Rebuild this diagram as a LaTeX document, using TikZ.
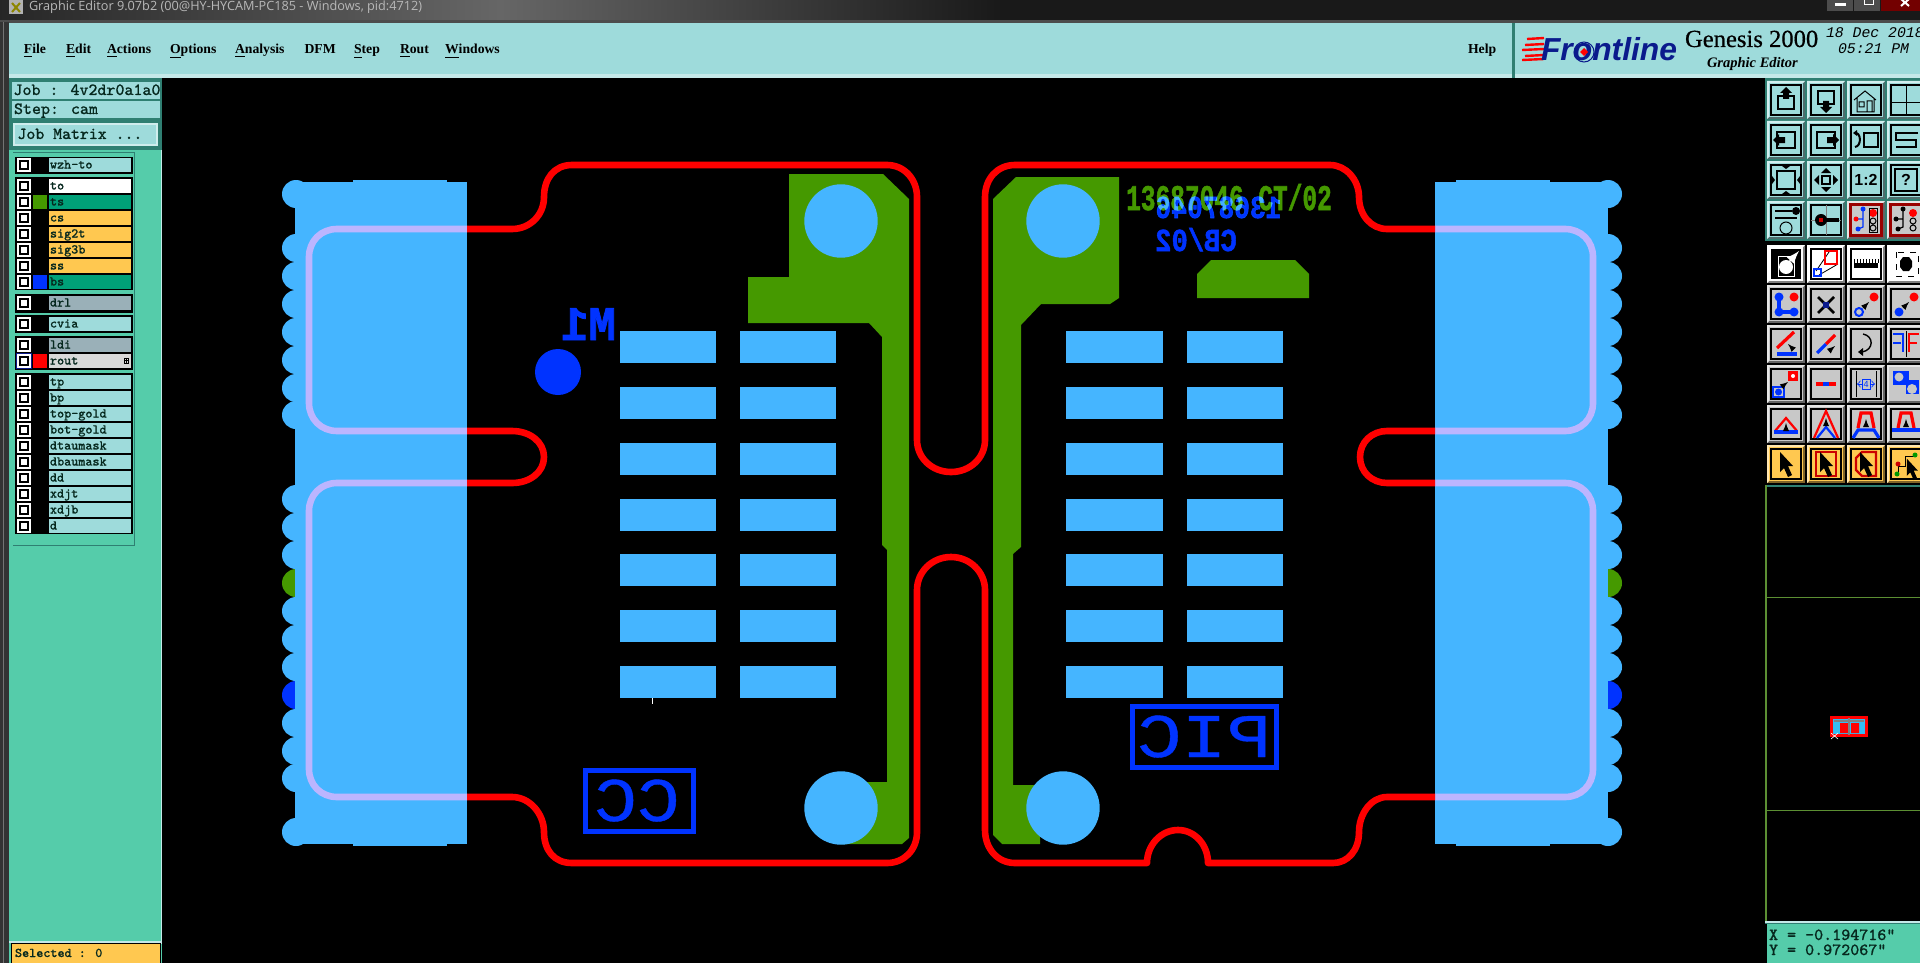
\documentclass[tikz,border=0pt]{standalone}
\usepackage{fontspec}
\setmainfont{Liberation Serif}
\newfontfamily\monof{Liberation Mono}
\newfontfamily\heavyf[FakeBold=1.6]{Liberation Mono Bold}
\newfontfamily\medf[FakeBold=0.6]{Liberation Mono}
\newfontfamily\lmf[FakeBold=0.8]{Latin Modern Mono}
\newfontfamily\sansf{Liberation Sans}
\newfontfamily\titlef{Open Sans}
\newfontfamily\genf[FakeBold=0.5]{Liberation Serif}
\newcommand\fs[1]{\fontsize{#1pt}{#1pt}\selectfont}
\definecolor{pad}{HTML}{45B5FF}
\definecolor{cu}{HTML}{459900}
\definecolor{bot}{HTML}{0033FF}
\definecolor{lav}{HTML}{BCB5FF}
\definecolor{panel}{HTML}{9EDBDB}
\definecolor{side}{HTML}{55CCAA}
\definecolor{sel}{HTML}{FFC850}
\definecolor{act}{HTML}{00A078}
\definecolor{gry}{HTML}{9AB0B8}
\definecolor{edge}{HTML}{2F7F72}
\definecolor{btng}{HTML}{C8C8C8}
\definecolor{navy}{HTML}{0A1A8C}
\definecolor{ink}{HTML}{06281E}
\tikzset{
 txt/.style={anchor=base west,inner sep=0pt,outer sep=0pt},
 route/.style={draw=red,line width=3.3pt,line join=round},
 lavline/.style={draw=lav,line width=3.3pt},
 mir/.style={anchor=base,inner sep=0pt,outer sep=0pt},
 fr/.style={draw=black,line width=.6pt},
 ik/.style={draw=black,line width=1pt},
 layt/.style={txt,text=ink,font=\lmf\fs{6.67}},
 menu/.style={txt,text=black,font=\bfseries\fs{6.85}},
}
\newcommand\btn[4]{\begin{scope}[shift={(#1,#2)}]
 \fill[#3!50!black] (-19,-19) rectangle (19,19);
 \fill[#3!45!white] (-19,-19) -- (19,-19) -- (17,-17) -- (-17,-17) -- (-17,17) -- (-19,19) -- cycle;
 \fill[#3] (-17,-17) rectangle (17,17);
 #4
\end{scope}}
\newcommand\boxed{\draw[fr] (-15,-15) rectangle (15,15);}
\newcommand\curs{\fill[black] (-6,-12) -- (7,2) -- (2,2) -- (6,11) -- (2,13) -- (-2,4) -- (-6,8) -- cycle;}
\newcommand\layerrow[5]{% y, id, label, label fill, swatch
 \fill[white] (17,#1-7) rectangle (31,#1+7);
 \fill[black] (19,#1-5) rectangle (29,#1+5);
 \fill[white] (21,#1-3) rectangle (27,#1+3);
 \fill[#5] (33,#1-7) rectangle (47,#1+7);
 \fill[#4] (49,#1-7) rectangle (131,#1+7);
 \node[layt] (#2) at (50,#1+3.5) {#3};
}
\begin{document}
\begin{tikzpicture}[x=.5pt,y=-.5pt]
\useasboundingbox (0,0) rectangle (1920,963);
\clip (0,0) rectangle (1920,963);
\fill[black] (0,0) rectangle (1920,963);
% title bar
\shade[left color=black!85,right color=black!90,middle color=black!60] (0,0) rectangle (1000,22);
\fill[black!90] (1000,0) rectangle (1920,22);
\fill[white!70!black] (9,0) rectangle (23,14);
\draw[olive,line width=1pt] (12,3) -- (20,12) (20,3) -- (12,12);
\node[txt,text=black!28,font=\titlef\fs{6.35}] (title) at (29,11) {Graphic Editor 9.07b2 (00@HY-HYCAM-PC185 - Windows, pid:4712)};
\fill[black!70] (1827,-2) rectangle (1853,11);
\fill[black!70] (1854,-2) rectangle (1880,11);
\fill[red!45!black] (1881,-2) rectangle (1920,11);
\fill[white] (1835,3) rectangle (1846,6);
\draw[white,line width=.5pt] (1864,-1) rectangle (1873,5);
\draw[white,line width=1pt] (1901,-1) -- (1909,6) (1909,-1) -- (1901,6);
% menu bar
\fill[black!70] (0,20) rectangle (1920,23);
\fill[panel] (9,23) rectangle (1512,74);
\fill[panel!60!white] (9,74) rectangle (1512,78);
\fill[panel] (1515,23) rectangle (1920,74);
\fill[panel!60!white] (1515,74) rectangle (1920,78);
\fill[edge] (1512,23) rectangle (1515,78);
\foreach \n/\x/\t in {mfile/24/\underline{F}ile,medit/66/\underline{E}dit,mact/107/\underline{A}ctions,mopt/170/\underline{O}ptions,mana/235/\underline{A}nalysis,mdfm/304.5/DFM,mstep/354/\underline{S}tep,mrout/400/\underline{R}out,mwin/445/\underline{W}indows,mhelp/1468/Help}
 \node[menu] (\n) at (\x,54) {\t};
% logo
\foreach \yy/\xa in {39/1527,45/1525,50/1522,56/1525,60/1522}
 \draw[red,line width=1.2pt] (\xa,\yy) -- (1544,\yy-1);
\node[txt,text=navy,font=\sansf\bfseries\itshape\fs{15.9}] (logo) at (1541,60.5) {Frontline};
\draw[navy,line width=.5pt] (1584,52) circle (10);
\fill[red] (1584,48) -- (1588,52) -- (1584,56) -- (1580,52) -- cycle;
\node[txt,text=black,font=\genf\fs{12.3}] (gen) at (1685,47) {Genesis 2000};
\node[txt,text=black,font=\bfseries\itshape\fs{7.25}] (ge) at (1707,68) {Graphic Editor};
\node[txt,text=black,font=\monof\itshape\fs{7.4}] (dt) at (1826,38) {18 Dec 2018};
\node[txt,text=black,font=\monof\itshape\fs{7.4}] (tm) at (1838,54) {05:21 PM};
% left panel
\fill[black!80] (0,22) rectangle (9,963);
\draw[black!55,line width=.5pt] (3,22) -- (3,963);
\fill[side] (9,78) rectangle (162,963);
\fill[panel!60!white] (160.5,150) rectangle (162,944);
\fill[edge] (9,78) rectangle (162,150);
\fill[panel] (12,82) rectangle (160,99);
\fill[panel] (12,101) rectangle (160,118);
\fill[panel] (13,123) rectangle (158,146);
\draw[panel!50!white,line width=.6pt] (14,124) rectangle (157,145);
\node[txt,text=ink,font=\lmf\fs{8.57}] (job) at (13.5,95) {Job : 4v2dr0a1a0};
\node[txt,text=ink,font=\lmf\fs{8.57}] (stp) at (14,114) {Step: cam};
\node[txt,text=ink,font=\lmf\fs{8.4}] (mat) at (17.5,139) {Job Matrix ...};
\fill[edge] (13,152) rectangle (135,546);
\fill[side] (13,153) rectangle (134,545);
\foreach \a/\b in {157/174,177/290,294/313,315/333,336/370,373/534}
 \fill[black] (15,\a) rectangle (133,\b);
\layerrow{165}{Lwzh}{wzh-to}{panel}{black}
\layerrow{186}{Lto}{to}{white}{black}
\layerrow{202}{Lts}{ts}{act}{cu}
\layerrow{218}{Lcs}{cs}{sel}{black}
\layerrow{234}{Lsigt}{sig2t}{sel}{black}
\layerrow{250}{Lsigb}{sig3b}{sel}{black}
\layerrow{266}{Lss}{ss}{sel}{black}
\layerrow{282}{Lbs}{bs}{act}{bot}
\layerrow{303}{Ldrl}{drl}{gry}{black}
\layerrow{324}{Lcvia}{cvia}{panel}{black}
\layerrow{345}{Lldi}{ldi}{gry}{black}
\fill[navy] (16,353) rectangle (32,369);
\layerrow{361}{Lrout}{rout}{black!15}{red}
\draw[black,line width=.4pt] (124,358.5) rectangle (128.5,363) (126.2,358.5) -- (126.2,363) (124,360.7) -- (128.5,360.7);
\layerrow{382}{Ltp}{tp}{panel}{black}
\layerrow{398}{Lbp}{bp}{panel}{black}
\layerrow{414}{Ltg}{top-gold}{panel}{black}
\layerrow{430}{Lbg}{bot-gold}{panel}{black}
\layerrow{446}{Ldt}{dtaumask}{panel}{black}
\layerrow{462}{Ldb}{dbaumask}{panel}{black}
\layerrow{478}{Ldd}{dd}{panel}{black}
\layerrow{494}{Lxt}{xdjt}{panel}{black}
\layerrow{510}{Lxb}{xdjb}{panel}{black}
\layerrow{526}{Ld}{d}{panel}{black}
\fill[panel!60!white] (9,941) rectangle (162,943);
\fill[black] (11,943) rectangle (161,963);
\fill[sel] (12,944) rectangle (160,963);
\node[txt,text=ink,font=\lmf\fs{6.67}] (selt) at (15,957) {Selected : 0};
% BOARD
\foreach \yy in {194,248,276,304,332,360,388,415,499,527,555,611,639,667,723,751,778,832}{
 \fill[pad] (296,\yy) circle (14);
 \fill[pad] (1608,\yy) circle (14);
}
\foreach \yy/\cc in {583/cu,695/bot}{
 \fill[\cc] (296,\yy) circle (14);
 \fill[\cc] (1608,\yy) circle (14);
}
\fill[pad] (295,182) rectangle (467,844);
\fill[pad] (353,180) rectangle (447,846);
\fill[pad] (1435,182) rectangle (1608,844);
\fill[pad] (1456,180) rectangle (1550,846);
% lavender routes
\draw[lavline] (467,229) -- (337,229) .. controls (321,229) and (309,241) .. (309,257) -- (309,403) .. controls (309,419) and (321,431) .. (337,431) -- (467,431);
\draw[lavline] (467,483) -- (337,483) .. controls (321,483) and (309,495) .. (309,511) -- (309,769) .. controls (309,785) and (321,797) .. (337,797) -- (467,797);
\draw[lavline] (1435,229) -- (1565,229) .. controls (1581,229) and (1593,241) .. (1593,257) -- (1593,403) .. controls (1593,419) and (1581,431) .. (1565,431) -- (1435,431);
\draw[lavline] (1435,483) -- (1565,483) .. controls (1581,483) and (1593,495) .. (1593,511) -- (1593,769) .. controls (1593,785) and (1581,797) .. (1565,797) -- (1435,797);
% copper
\fill[cu] (789,174) -- (883,174) -- (909,199) -- (909,838) -- (902,844) -- (840,844) -- (840,782) -- (887,782) -- (887,550) -- (882,545) -- (882,337) -- (869,323) -- (748,323) -- (748,277) -- (789,277) -- cycle;
\fill[cu] (993,199) -- (1016,177) -- (1119,177) -- (1119,298) -- (1110,304) -- (1041,304) -- (1021,325) -- (1021,547) -- (1013,554) -- (1013,785) -- (1040,785) -- (1040,844) -- (1002,844) -- (993,835) -- cycle;
\fill[cu] (1197,298) -- (1197,274) -- (1211,260) -- (1295,260) -- (1309,274) -- (1309,298) -- cycle;
% through holes
\foreach \cx in {841,1063}
 \foreach \cy in {221,808}
  \fill[pad] (\cx,\cy) circle (36.7);
% pads
\foreach \ry in {331,387,442.5,498.5,554,610,666}{
 \fill[pad] (620,\ry) rectangle (716,\ry+32);
 \fill[pad] (740,\ry) rectangle (836,\ry+32);
 \fill[pad] (1066,\ry) rectangle (1163,\ry+32);
 \fill[pad] (1187,\ry) rectangle (1283,\ry+32);
}
\draw[white,line width=.4pt] (652,698) -- (652,704);
% route outlines
\draw[route] (467,229) -- (512,229) .. controls (530,229) and (544,215) .. (544,197) .. controls (544,179) and (554,165) .. (572,165) -- (887,165) .. controls (904,165) and (917,179) .. (917,197) -- (917,440) .. controls (917,458) and (932,472) .. (951,472) .. controls (970,472) and (985,458) .. (985,440) -- (985,197) .. controls (985,179) and (997,165) .. (1015,165) -- (1330,165) .. controls (1346,165) and (1359,180) .. (1359,197) .. controls (1359,215) and (1371,229) .. (1387,229) -- (1435,229);
\draw[route] (467,797) -- (512,797) .. controls (530,797) and (544,814) .. (544,832) .. controls (544,850) and (554,863) .. (572,863) -- (887,863) .. controls (904,863) and (917,850) .. (917,832) -- (917,590) .. controls (917,572) and (932,557) .. (951,557) .. controls (970,557) and (985,572) .. (985,590) -- (985,830) .. controls (985,848) and (997,863) .. (1015,863) -- (1147,863) .. controls (1147,845) and (1161,830) .. (1178,830) .. controls (1195,830) and (1208,845) .. (1208,863) -- (1333,863) .. controls (1348,863) and (1359,850) .. (1359,832) .. controls (1359,814) and (1371,797) .. (1387,797) -- (1435,797);
\draw[route] (467,431) -- (512,431) .. controls (530,431) and (544,442) .. (544,457) .. controls (544,472) and (530,483) .. (512,483) -- (467,483);
\draw[route] (1435,431) -- (1387,431) .. controls (1372,431) and (1360,442) .. (1360,457) .. controls (1360,472) and (1372,483) .. (1387,483) -- (1435,483);
% bottom-side marks
\fill[bot] (558,372) circle (23);
\node[mir,xscale=-.95,text=bot,font=\heavyf\fs{24}] (m1) at (588.5,340) {M1};
\draw[bot,line width=2.5pt] (585,770) rectangle (693,831);
\node[mir,xscale=-1.15,text=bot,font=\medf\fs{31}] (cc) at (637,821) {CC};
\draw[bot,line width=2.5pt] (1132,706) rectangle (1276,767);
\node[mir,xscale=-1.2,text=bot,font=\medf\fs{31}] (pic) at (1204,757) {PIC};
\node[mir,xscale=.68,text=cu,font=\heavyf\fs{18}] (gt) at (1229,210) {13687046 CT/02};
\begin{scope}[blend mode=screen]
\node[mir,xscale=-.82,text=bot,font=\heavyf\fs{16}] (bt1) at (1218.5,218) {13687046};
\end{scope}
\node[mir,xscale=-.85,text=bot,font=\heavyf\fs{16}] (bt2) at (1196,251) {CB/02};
% toolbar backgrounds
\fill[edge] (1765,78) rectangle (1920,241);
\fill[black] (1765,241) rectangle (1920,485);
% teal rows
\btn{1786}{100}{panel}{\boxed
 \draw[ik] (-8,-4) rectangle (8,9);
 \fill[black] (0,-13) -- (6,-7) -- (3,-7) -- (3,-1) -- (-3,-1) -- (-3,-7) -- (-6,-7) -- cycle;}
\btn{1826}{100}{panel}{\boxed
 \draw[ik] (-8,-9) rectangle (8,4);
 \fill[black] (0,13) -- (6,7) -- (3,7) -- (3,1) -- (-3,1) -- (-3,7) -- (-6,7) -- cycle;}
\btn{1866}{100}{panel}{\boxed
 \draw[line width=.5pt] (-12,0) -- (-1,-9) -- (10,0) (-9,-2) -- (-9,12) -- (8,12) -- (8,-2) (1,12) -- (1,1) -- (6,1) -- (6,12) (-7,2) rectangle (-2,7);}
\btn{1906}{100}{panel}{\boxed
 \draw[line width=.5pt] (0,-15) -- (0,15) (-15,3) -- (15,3);}
\btn{1786}{140}{panel}{\boxed
 \draw[ik] (-9,-8) rectangle (9,8);
 \fill[black] (-13,0) -- (-7,-6) -- (-7,-3) -- (-1,-3) -- (-1,3) -- (-7,3) -- (-7,6) -- cycle;}
\btn{1826}{140}{panel}{\boxed
 \draw[ik] (-9,-8) rectangle (9,8);
 \fill[black] (13,0) -- (7,-6) -- (7,-3) -- (1,-3) -- (1,3) -- (7,3) -- (7,6) -- cycle;}
\btn{1866}{140}{panel}{\boxed
 \draw[ik] (-2,-7) rectangle (12,7);
 \draw[ik] (-11,-7) .. controls (-5,-8) and (-4,6) .. (-11,7);
 \fill[black] (-13,-7) -- (-9,-10) -- (-9,-4) -- cycle;}
\btn{1906}{140}{panel}{\boxed
 \draw[ik] (12,-7) -- (-10,-7) -- (-10,0) -- (10,0) -- (10,7) -- (-10,7);}
\btn{1786}{180}{panel}{\boxed
 \draw[ik] (-9,-9) rectangle (9,9);
 \fill[black] (-4,-14) -- (4,-14) -- (0,-11) -- cycle (-4,14) -- (4,14) -- (0,11) -- cycle (-14,-4) -- (-14,4) -- (-11,0) -- cycle (14,-4) -- (14,4) -- (11,0) -- cycle;}
\btn{1826}{180}{panel}{\boxed
 \draw[ik] (-4,-4) rectangle (4,4);
 \fill[black] (0,-12) -- (-5,-7) -- (5,-7) -- cycle (0,12) -- (-5,7) -- (5,7) -- cycle (-12,0) -- (-7,-5) -- (-7,5) -- cycle (12,0) -- (7,-5) -- (7,5) -- cycle;}
\btn{1866}{180}{panel}{\boxed
 \node[inner sep=0pt,font=\sansf\bfseries\fs{8}] (ratio) at (0,0) {1:2};}
\btn{1906}{180}{panel}{\boxed
 \draw[ik] (-11,-11) rectangle (11,11);
 \node[inner sep=0pt,font=\sansf\bfseries\fs{8}] (qm) at (0,0) {?};}
\btn{1786}{220}{panel}{\boxed
 \draw[ik] (-11,-9) -- (6,-9) (-11,-2) -- (11,-2);
 \fill[black] (10,-9) circle (4);
 \draw[line width=.5pt] (0,8) circle (6);}
\btn{1826}{220}{panel}{\boxed
 \draw[gray,line width=.5pt] (-15,0) -- (15,0) (0,-15) -- (0,15);
 \fill[black] (-5,0) circle (6);
 \fill[black] (-2,-2) rectangle (13,2);
 \fill[red!80!black] (-7,-2) rectangle (-3,2);}
\btn{1866}{220}{btng}{
 \fill[red!60!black] (-17,-17) rectangle (17,17);
 \fill[btng] (-14,-14) rectangle (14,14);
 \draw[bot,line width=.6pt] (-9,-1) -- (-3,-1) -- (-3,-11) (-3,-1) -- (-3,7) -- (-8,9);
 \fill[red] (-10,-1) circle (2.5);
 \fill[bot] (-3,-11) circle (2.5);
 \fill[bot] (-8,9) circle (2.5);
 \fill[red] (7,-7) circle (4);
 \draw[line width=.5pt] (7,1) circle (3) (7,8) circle (3);
 \draw[line width=.5pt] (3,-12) rectangle (11,12);}
\btn{1906}{220}{btng}{
 \fill[red!60!black] (-17,-17) rectangle (17,17);
 \fill[btng] (-14,-14) rectangle (14,14);
 \draw[black,line width=.6pt] (-9,-1) -- (-3,-1) -- (-3,-11) (-3,-1) -- (-3,7) -- (-8,9);
 \fill[black] (-10,-1) circle (2.5);
 \fill[black] (-3,-11) circle (2.5);
 \fill[black] (-8,9) circle (2.5);
 \fill[red] (7,-7) circle (4);
 \draw[line width=.5pt] (7,1) circle (3) (7,8) circle (3);}
% white row
\btn{1786}{264}{white}{
 \fill[black] (-15,-15) rectangle (15,15);
 \draw[white,line width=.5pt] (-8,-8) rectangle (8,12);
 \fill[white] (0,3) circle (7);
 \draw[white,line width=1.2pt,-latex] (4,-3) -- (13,-13);}
\btn{1826}{264}{white}{\boxed
 \draw[black,line width=.4pt] (-10,7) -- (3,-12) (-7,11) -- (12,0);
 \draw[red,line width=1.2pt] (-1,-13) rectangle (11,0);
 \draw[bot,line width=1pt] (-12,5) rectangle (-5,12);}
\btn{1866}{264}{white}{\boxed
 \fill[black] (-12,-1) rectangle (12,4);
 \foreach \k in {-12,-9,...,12} \draw[black,line width=.3pt] (\k,-5) -- (\k,-1);}
\btn{1906}{264}{white}{
 \draw[black,dashed,line width=.4pt] (-10,-12) rectangle (12,12);
 \fill[black] (-6,-3) -- (-3,-7) -- (3,-7) -- (6,-3) -- (6,3) -- (3,7) -- (-3,7) -- (-6,3) -- cycle;}
% gray rows
\btn{1786}{304}{btng}{\boxed
 \draw[bot,line width=2pt] (-7,-7) -- (-7,8) -- (8,8);
 \fill[bot] (-7,-7) circle (4.5) (-7,8) circle (4.5) (8,8) circle (4.5);
 \fill[red] (8,-7) circle (4.5);}
\btn{1826}{304}{btng}{\boxed
 \draw[black,line width=1.3pt] (-8,-7) -- (8,9) (8,-7) -- (-8,9);
 \fill[navy] (-3,-2) rectangle (3,4);}
\btn{1866}{304}{btng}{\boxed
 \fill[red] (8,-7) circle (4.5);
 \draw[bot,line width=1pt] (-7,8) circle (4);
 \draw[line width=.4pt,-latex] (-3,4) -- (3,-2);}
\btn{1906}{304}{btng}{\boxed
 \fill[red] (8,-7) circle (4.5);
 \fill[bot] (-7,8) circle (4.5);
 \draw[line width=.4pt,-latex] (-3,4) -- (3,-2);}
\btn{1786}{344}{btng}{\boxed
 \draw[red,line width=1.6pt] (-9,4) -- (8,-12);
 \draw[bot,line width=1.6pt] (-9,10) -- (11,10);
 \draw[line width=.4pt,-latex] (7,5) -- (2,0);}
\btn{1826}{344}{btng}{\boxed
 \draw[bot,line width=1.6pt] (-9,9) -- (0,0);
 \draw[red,line width=1.6pt] (0,0) -- (9,-9);
 \draw[line width=.4pt,-latex] (3,7) -- (9,2);}
\btn{1866}{344}{btng}{\boxed
 \draw[line width=.7pt] (-3,-10) .. controls (8,-8) and (8,6) .. (-4,8);
 \fill[black] (-8,8) -- (-3,4) -- (-3,12) -- cycle;}
\btn{1906}{344}{btng}{\boxed
 \draw[bot,line width=1.3pt] (-13,-10) -- (-3,-10) -- (-3,8) (-13,-1) -- (-5,-1);
 \draw[black,line width=.5pt] (0,-13) -- (0,13);
 \draw[red,line width=1.3pt] (3,8) -- (3,-10) -- (13,-10) (3,-1) -- (11,-1);}
\btn{1786}{384}{btng}{\boxed
 \fill[red] (2,-13) rectangle (12,-3);
 \fill[white] (7,-8) circle (2);
 \draw[bot,line width=.8pt] (-13,3) rectangle (-2,13);
 \fill[bot] (-7.5,8) circle (3.5);
 \draw[line width=.4pt,-latex] (-2,1) -- (2,-2);}
\btn{1826}{384}{btng}{\boxed
 \draw[red,line width=1.6pt] (-10,0) -- (10,0);
 \draw[bot,line width=1.6pt] (-3,0) -- (3,0);}
\btn{1866}{384}{btng}{\boxed
 \draw[line width=.5pt] (-10,-13) -- (-10,13) (10,-13) -- (10,13);
 \draw[bot,line width=.4pt,<->] (-9,0) -- (9,0);
 \draw[bot,fill=btng,line width=.4pt] (-4,-5) rectangle (4,5);
 \node[inner sep=0pt,text=bot,font=\sansf\fs{4.5}] (four) at (0,0) {4};}
\btn{1906}{384}{btng}{
 \fill[bot] (-13,-13) rectangle (3,1);
 \fill[bot] (0,-4) rectangle (13,10);
 \fill[btng] (-7,-7) circle (4.5) (6,5) circle (5);}
\btn{1786}{424}{btng}{\boxed
 \draw[red,line width=1.1pt] (-11,7) -- (0,-6) -- (11,7);
 \draw[bot,line width=1.6pt] (-12,8) -- (12,8);
 \draw[line width=.4pt,-latex] (0,6) -- (0,-1);}
\btn{1826}{424}{btng}{\boxed
 \draw[red,line width=1.1pt] (-12,14) -- (0,-13) -- (12,14);
 \draw[bot,line width=1.1pt] (-9,14) -- (0,3) -- (9,14);
 \draw[line width=.4pt,-latex] (0,0) -- (0,-6);}
\btn{1866}{424}{btng}{\boxed
 \draw[red,line width=1.6pt] (-8,4) -- (-5,-11) -- (5,-11) -- (8,4);
 \draw[bot,line width=1.6pt] (-13,14) -- (-8,6) -- (8,6) -- (13,14);
 \draw[line width=.4pt,-latex] (0,3) -- (0,-5);}
\btn{1906}{424}{btng}{\boxed
 \draw[red,line width=1.6pt] (-8,4) -- (-5,-11) -- (5,-11) -- (8,4);
 \draw[bot,line width=1.6pt] (-14,6) -- (14,6);
 \draw[line width=.4pt,-latex] (0,3) -- (0,-5);}
% orange row
\btn{1786}{464}{sel}{\boxed \curs}
\btn{1826}{464}{sel}{\boxed
 \draw[red!80!black,line width=1.1pt] (-10,-12) rectangle (10,12);
 \curs}
\btn{1866}{464}{sel}{\boxed
 \draw[red!80!black,line width=1.1pt] (-4,-12) -- (10,-12) -- (10,12) -- (-4,12) -- (-10,6) -- (-10,-6) -- cycle;
 \curs}
\btn{1906}{464}{sel}{\boxed
 \draw[line width=.5pt] (-8,2) -- (-8,10) (-8,2) -- (-1,2) -- (-1,-8) -- (8,-8);
 \fill[red!80!black] (-8,0) circle (2.5);
 \fill[green!60!black] (-9,10) circle (2.5) (9,-9) circle (2.5);
 \begin{scope}[shift={(6,5)},scale=.85]\curs\end{scope}}
% minimap
\fill[edge] (1765,485) rectangle (1920,487);
\fill[cu!60!gray] (1765,485) rectangle (1767,921);
\draw[cu!60!gray,line width=.4pt] (1766,597) -- (1920,597) (1766,810) -- (1920,810);
\fill[red] (1830,716) rectangle (1868,737);
\fill[cyan!80!white] (1833,719) rectangle (1865,734);
\fill[red] (1840,723) rectangle (1848,733) (1851,723) rectangle (1859,733);
\draw[gray,line width=.6pt] (1834,721) -- (1864,721) (1849,718) -- (1849,735);
\draw[white,line width=.3pt] (1831,733) -- (1838,739) (1838,733) -- (1831,739);
% coordinates
\fill[panel!60!white] (1765,921) rectangle (1920,923);
\fill[edge] (1765,923) rectangle (1920,924);
\fill[side] (1767,924) rectangle (1920,963);
\node[txt,text=ink,font=\lmf\fs{8.5}] (cx) at (1769,940) {X = -0.194716"};
\node[txt,text=ink,font=\lmf\fs{8.5}] (cy) at (1769,955) {Y = 0.972067"};
\end{tikzpicture}
\end{document}
